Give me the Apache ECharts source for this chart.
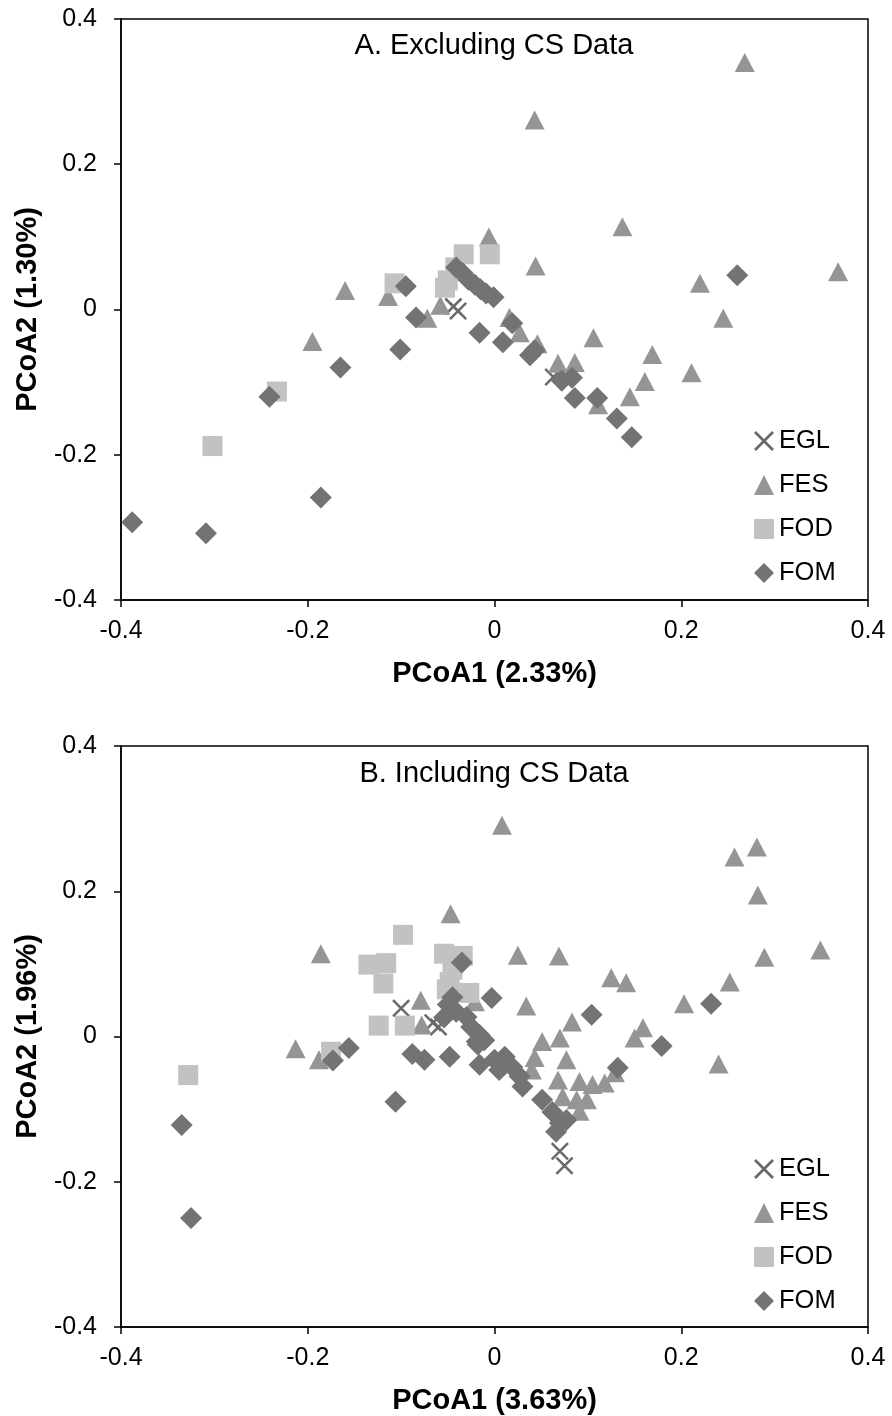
<!DOCTYPE html>
<html>
<head>
<meta charset="utf-8">
<script src="https://cdn.jsdelivr.net/npm/echarts@6/dist/echarts.min.js"></script>
<style>
html,body{margin:0;padding:0;background:#fff;}
#chart{width:892px;height:1416px;}
</style>
</head>
<body>
<div id="chart"></div>
<script>
// ---- Panel A: Excluding CS Data ----
const titleA = "A. Excluding CS Data";
const xNameA = "PCoA1 (2.33%)";
const yNameA = "PCoA2 (1.30%)";
const EGL_A = [[-0.044,0.004],[-0.039,-0.002],[0.063,-0.093]];
const FES_A = [[0.268,0.340],[0.043,0.261],[0.137,0.114],[-0.006,0.100],[0.044,0.060],[0.368,0.052],
  [0.220,0.036],[-0.160,0.026],[-0.114,0.018],[0.245,-0.012],[-0.195,-0.044],[-0.072,-0.012],
  [-0.058,0.006],[0.106,-0.039],[0.169,-0.062],[0.211,-0.087],[0.161,-0.099],[0.145,-0.120],
  [0.111,-0.131],[0.068,-0.074],[0.086,-0.073],[0.016,-0.011],[0.027,-0.032],[0.046,-0.047]];
const FOD_A = [[-0.005,0.076],[-0.033,0.076],[-0.107,0.036],[-0.042,0.058],[-0.050,0.040],
  [-0.053,0.030],[-0.233,-0.113],[-0.302,-0.188]];
const FOM_A = [[0.260,0.047],[-0.095,0.032],[-0.084,-0.011],[-0.101,-0.055],[-0.165,-0.080],
  [-0.241,-0.120],[-0.186,-0.259],[-0.388,-0.293],[-0.309,-0.308],[-0.016,-0.032],
  [-0.041,0.058],[-0.034,0.050],[-0.028,0.041],[-0.021,0.034],[-0.015,0.028],[-0.009,0.022],[-0.001,0.017],
  [0.009,-0.045],[0.019,-0.019],[0.038,-0.063],[0.043,-0.056],[0.072,-0.098],[0.083,-0.094],
  [0.086,-0.122],[0.110,-0.122],[0.131,-0.150],[0.147,-0.176]];

// ---- Panel B: Including CS Data ----
const titleB = "B. Including CS Data";
const xNameB = "PCoA1 (3.63%)";
const yNameB = "PCoA2 (1.96%)";
const EGL_B = [[-0.100,0.039],[-0.066,0.019],[-0.060,0.013],[0.070,-0.158],[0.075,-0.178]];
const FES_B = [[0.008,0.291],[0.257,0.247],[0.281,0.261],[0.282,0.195],[0.349,0.119],[0.289,0.109],
  [0.025,0.112],[0.069,0.111],[0.125,0.081],[0.141,0.074],[0.252,0.075],[0.203,0.045],
  [0.034,0.042],[0.083,0.020],[0.159,0.012],[0.150,-0.002],[0.240,-0.038],[0.070,-0.002],
  [0.051,-0.007],[0.077,-0.032],[0.043,-0.029],[0.040,-0.046],[0.068,-0.060],[0.091,-0.062],
  [0.105,-0.066],[0.118,-0.064],[0.129,-0.050],[0.073,-0.083],[0.088,-0.087],[0.099,-0.087],
  [0.091,-0.103],[-0.047,0.169],[-0.186,0.114],[-0.079,0.050],[-0.078,0.016],[-0.021,0.048],
  [-0.213,-0.017],[-0.188,-0.032]];
const FOD_B = [[-0.098,0.140],[-0.135,0.099],[-0.116,0.101],[-0.119,0.073],[-0.054,0.114],
  [-0.034,0.111],[-0.048,0.075],[-0.124,0.015],[-0.096,0.015],[-0.328,-0.053],[-0.175,-0.021],
  [-0.045,0.092],[-0.027,0.060],[-0.051,0.065]];
const FOM_B = [[-0.035,0.102],[-0.003,0.053],[0.104,0.030],[0.232,0.045],[0.179,-0.013],[0.132,-0.043],
  [-0.045,0.054],[-0.050,0.044],[-0.054,0.026],[-0.041,0.034],[-0.030,0.027],[-0.025,0.013],
  [-0.016,0.002],[-0.011,-0.005],[-0.018,-0.011],[-0.075,-0.032],[-0.048,-0.028],[-0.016,-0.039],
  [0.000,-0.032],[0.011,-0.028],[0.005,-0.046],[0.019,-0.042],[0.027,-0.055],[0.030,-0.069],
  [0.051,-0.087],[0.062,-0.104],[0.070,-0.119],[0.066,-0.131],[0.077,-0.115],
  [-0.156,-0.016],[-0.173,-0.033],[-0.088,-0.024],[-0.106,-0.090],[-0.335,-0.122],[-0.325,-0.250],
  [-0.019,-0.007]];

const seriesNames = ["EGL","FES","FOD","FOM"];
const axisMin = -0.4, axisMax = 0.4, axisStep = 0.2;

const FONT = "'Liberation Sans', Arial, sans-serif";
const xSymbol = 'path://M0,1L1,0L10,9L9,10Z M9,0L10,1L1,10L0,9Z';
const styles = {
  EGL: {symbol: xSymbol, symbolSize: 18, color: '#6a6a6a'},
  FES: {symbol: 'triangle', symbolSize: [20,19], color: '#959595'},
  FOD: {symbol: 'rect', symbolSize: 20, color: '#c2c2c2'},
  FOM: {symbol: 'diamond', symbolSize: 22, color: '#737373'}
};

function makeAxis(gridIndex, name, isX) {
  const a = {
    type: 'value', gridIndex: gridIndex, min: axisMin, max: axisMax, interval: axisStep,
    name: name, nameLocation: 'middle',
    nameTextStyle: {fontFamily: FONT, fontSize: 29, fontWeight: 'bold', color: '#000'},
    axisLine: {show: true, onZero: false, lineStyle: {color: '#000', width: 1.5}},
    axisTick: {show: true, inside: false, length: 7, lineStyle: {color: '#000', width: 1.5}},
    axisLabel: {fontFamily: FONT, fontSize: 25, color: '#000', margin: isX ? 19 : 24},
    splitLine: {show: false}
  };
  if (isX) { a.nameGap = 59; } else { a.nameGap = 79; }
  return a;
}

function makeSeries(name, data, idx) {
  const s = styles[name];
  return {
    name: name, type: 'scatter', xAxisIndex: idx, yAxisIndex: idx,
    data: data, symbol: s.symbol, symbolSize: s.symbolSize,
    itemStyle: {color: s.color, opacity: 1},
    emphasis: {disabled: true}, animation: false
  };
}

function makeLegend(top) {
  return {
    orient: 'vertical', left: 749, top: top, itemWidth: 20, itemHeight: 20, itemGap: 18,
    selectedMode: false,
    textStyle: {fontFamily: FONT, fontSize: 25.5, color: '#000', lineHeight: 24},
    data: seriesNames.map(n => ({name: n, icon: styles[n].symbol}))
  };
}

const chart = echarts.init(document.getElementById('chart'), null, {renderer: 'canvas'});
chart.setOption({
  backgroundColor: '#fff',
  animation: false,
  grid: [
    {left: 121, top: 19, width: 747, height: 581, show: true, borderColor: '#000', borderWidth: 1.5, backgroundColor: 'transparent'},
    {left: 121, top: 746, width: 747, height: 582, show: true, borderColor: '#000', borderWidth: 1.5, backgroundColor: 'transparent'}
  ],
  xAxis: [makeAxis(0, xNameA, true), makeAxis(1, xNameB, true)],
  yAxis: [makeAxis(0, yNameA, false), makeAxis(1, yNameB, false)],
  legend: [makeLegend(423), makeLegend(1151)],
  graphic: [
    {type: 'text', x: 494, y: 46, style: {text: titleA, fontSize: 29, fontFamily: FONT, fill: '#000', align: 'center', verticalAlign: 'middle'}},
    {type: 'text', x: 494, y: 774, style: {text: titleB, fontSize: 29, fontFamily: FONT, fill: '#000', align: 'center', verticalAlign: 'middle'}}
  ],
  series: [
    makeSeries('EGL', EGL_A, 0), makeSeries('FES', FES_A, 0), makeSeries('FOD', FOD_A, 0), makeSeries('FOM', FOM_A, 0),
    makeSeries('EGL', EGL_B, 1), makeSeries('FES', FES_B, 1), makeSeries('FOD', FOD_B, 1), makeSeries('FOM', FOM_B, 1)
  ]
});
</script>
</body>
</html>
